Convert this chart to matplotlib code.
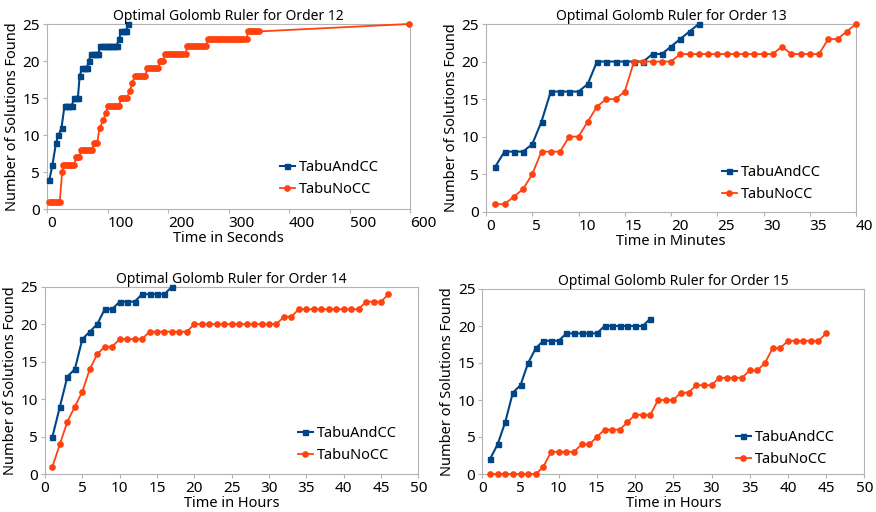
import matplotlib
matplotlib.use("Agg")
import matplotlib.pyplot as plt

plt.rcParams['font.family'] = ['Noto Sans', 'DejaVu Sans']

BLUE = '#004586'
RED = '#ff420e'

# ---------------- Order 12 (seconds) ----------------
o12_and_t = [4, 9, 15, 19, 24, 29, 32, 35, 38, 41, 45, 48, 51, 54, 58, 61, 64, 66, 69,
             73, 76, 79, 82, 85, 88, 91, 94, 97, 100, 103, 106, 109, 112, 115, 119,
             123, 126, 129, 131, 134]
o12_and_n = [4, 6, 9, 10, 11, 14, 14, 14, 14, 14, 15, 15, 15, 18, 19, 19, 19, 19, 20,
             21, 21, 21, 21, 21, 22, 22, 22, 22, 22, 22, 22, 22, 22, 22, 23,
             24, 24, 24, 24, 25]
o12_no_t = [3, 6, 9, 12, 15, 18, 21, 25, 27, 30, 33, 36, 39, 42, 45, 48, 51, 53,
            57, 60, 63, 66, 69, 72, 75, 77, 80, 83, 87, 93, 97,
            101, 104, 107, 110, 113, 116, 119, 123, 126, 129, 132, 137, 141,
            145, 148, 151, 154, 157, 160, 162, 166, 169, 172, 175, 178, 181, 184,
            186, 189, 191, 195, 198, 201, 204, 207, 210, 213, 216, 219, 222, 225, 229,
            232, 235, 238, 241, 244, 247, 250, 253, 256, 259, 263,
            266, 269, 272, 275, 278, 281, 284, 287, 290, 293, 296, 299, 302, 305, 308,
            311, 314, 317, 320, 323, 326, 330,
            332, 335, 338, 341, 344, 347, 351, 598]
o12_no_n = [1, 1, 1, 1, 1, 1, 1, 5, 6, 6, 6, 6, 6, 6, 6, 7, 7, 7,
            8, 8, 8, 8, 8, 8, 8, 9, 9, 9, 11, 12, 13,
            14, 14, 14, 14, 14, 14, 14, 15, 15, 15, 15, 16, 17,
            18, 18, 18, 18, 18, 18, 18, 19, 19, 19, 19, 19, 19, 19,
            20, 20, 20, 21, 21, 21, 21, 21, 21, 21, 21, 21, 21, 21, 21,
            22, 22, 22, 22, 22, 22, 22, 22, 22, 22, 22,
            23, 23, 23, 23, 23, 23, 23, 23, 23, 23, 23, 23, 23, 23, 23,
            23, 23, 23, 23, 23, 23, 23,
            24, 24, 24, 24, 24, 24, 24, 25]

# ---------------- Order 13 (minutes) ----------------
o13_and_t = [1, 2, 3, 4, 5, 6, 7, 8, 9, 10, 11, 12, 13, 14, 15, 16, 17, 18, 19, 20, 21, 22, 23]
o13_and_n = [6, 8, 8, 8, 9, 12, 16, 16, 16, 16, 17, 20, 20, 20, 20, 20, 20, 21, 21, 22, 23, 24, 25]
o13_no_t = [1, 2, 3, 4, 5, 6, 7, 8, 9, 10, 11, 12, 13, 14, 15, 16, 17, 18, 19, 20,
            21, 22, 23, 24, 25, 26, 27, 28, 29, 30, 31, 32, 33, 34, 35, 36, 37, 38, 39, 40]
o13_no_n = [1, 1, 2, 3, 5, 8, 8, 8, 10, 10, 12, 14, 15, 15, 16, 20, 20, 20, 20, 20,
            21, 21, 21, 21, 21, 21, 21, 21, 21, 21, 21, 22, 21, 21, 21, 21, 23, 23, 24, 25]

# ---------------- Order 14 (hours) ----------------
o14_and_t = [1, 2, 3, 4, 5, 6, 7, 8, 9, 10, 11, 12, 13, 14, 15, 16, 17]
o14_and_n = [5, 9, 13, 14, 18, 19, 20, 22, 22, 23, 23, 23, 24, 24, 24, 24, 25]
o14_no_t = [1, 2, 3, 4, 5, 6, 7, 8, 9, 10, 11, 12, 13, 14, 15, 16, 17, 18, 19, 20,
            21, 22, 23, 24, 25, 26, 27, 28, 29, 30, 31, 32, 33, 34, 35, 36, 37, 38, 39,
            40, 41, 42, 43, 44, 45, 46]
o14_no_n = [1, 4, 7, 9, 11, 14, 16, 17, 17, 18, 18, 18, 18, 19, 19, 19, 19, 19, 19, 20,
            20, 20, 20, 20, 20, 20, 20, 20, 20, 20, 20, 21, 21, 22, 22, 22, 22, 22, 22,
            22, 22, 22, 23, 23, 23, 24]

# ---------------- Order 15 (hours) ----------------
o15_and_t = [1, 2, 3, 4, 5, 6, 7, 8, 9, 10, 11, 12, 13, 14, 15, 16, 17, 18, 19, 20, 21, 22]
o15_and_n = [2, 4, 7, 11, 12, 15, 17, 18, 18, 18, 19, 19, 19, 19, 19, 20, 20, 20, 20, 20, 20, 21]
o15_no_t = [1, 2, 3, 4, 5, 6, 7, 8, 9, 10, 11, 12, 13, 14, 15, 16, 17, 18, 19, 20,
            21, 22, 23, 24, 25, 26, 27, 28, 29, 30, 31, 32, 33, 34, 35, 36, 37, 38, 39,
            40, 41, 42, 43, 44, 45]
o15_no_n = [0, 0, 0, 0, 0, 0, 0, 1, 3, 3, 3, 3, 4, 4, 5, 6, 6, 6, 7, 8,
            8, 8, 10, 10, 10, 11, 11, 12, 12, 12, 13, 13, 13, 13, 14, 14, 15, 17, 17,
            18, 18, 18, 18, 18, 19]

series_names = ['TabuAndCC', 'TabuNoCC']
titles = ['Optimal Golomb Ruler for Order 12', 'Optimal Golomb Ruler for Order 13',
          'Optimal Golomb Ruler for Order 14', 'Optimal Golomb Ruler for Order 15']
xlabels = ['Time in Seconds', 'Time in Minutes', 'Time in Hours', 'Time in Hours']
xticks_list = [[0, 100, 200, 300, 400, 500, 600],
               [0, 5, 10, 15, 20, 25, 30, 35, 40],
               [0, 5, 10, 15, 20, 25, 30, 35, 40, 45, 50],
               [0, 5, 10, 15, 20, 25, 30, 35, 40, 45, 50]]
yticks = [0, 5, 10, 15, 20, 25]
left_aligned_xlabels = [True, True, False, False]

W, H = 876, 512
fig = plt.figure(figsize=(W / 100, H / 100), dpi=100)

# axes boxes in pixels: left, top, right, bottom
boxes = [(47, 24, 410, 209.3),
         (486, 24, 856, 211.7),
         (45, 286.7, 418.3, 474),
         (482.3, 289, 864.3, 474)]
legend_pos = [(280, 160), (722, 165), (298, 426), (736, 430)]

data = [(o12_and_t, o12_and_n, o12_no_t, o12_no_n),
        (o13_and_t, o13_and_n, o13_no_t, o13_no_n),
        (o14_and_t, o14_and_n, o14_no_t, o14_no_n),
        (o15_and_t, o15_and_n, o15_no_t, o15_no_n)]

for i in range(4):
    l, t, r, b = boxes[i]
    ax = fig.add_axes([l / W, 1 - b / H, (r - l) / W, (b - t) / H])
    at, an, nt, nn = data[i]
    ax.plot(at, an, color=BLUE, marker='s', markersize=3.6, linewidth=1.5,
            label=series_names[0], clip_on=False, zorder=3)
    ax.plot(nt, nn, color=RED, marker='o', markersize=3.8, linewidth=1.3,
            label=series_names[1], clip_on=False, zorder=3)
    xt = xticks_list[i]
    ax.set_xlim(xt[0], xt[-1])
    ax.set_ylim(0, 25)
    ax.set_xticks(xt)
    ax.set_yticks(yticks)
    for s in ax.spines.values():
        s.set_color('#b3b3b3')
        s.set_linewidth(0.8)
    ax.tick_params(axis='both', colors='#b3b3b3', labelcolor='black',
                   labelsize=11, length=3, width=0.8, pad=2)
    if left_aligned_xlabels[i]:
        for lab in ax.get_xticklabels():
            lab.set_horizontalalignment('left')
    ax.set_title(titles[i], fontsize=10, pad=3)
    ax.set_xlabel(xlabels[i], fontsize=10.5, labelpad=0)
    ax.set_ylabel('Number of Solutions Found', fontsize=10.5, labelpad=2)
    lx, ly = legend_pos[i]
    ax.legend(loc='upper left', bbox_to_anchor=(lx / W, 1 - ly / H),
              bbox_transform=fig.transFigure, frameon=False, fontsize=10.5,
              handlelength=1.0, handletextpad=0.3, labelspacing=0.5,
              borderpad=0, borderaxespad=0)

fig.savefig('out.png', dpi=100)
